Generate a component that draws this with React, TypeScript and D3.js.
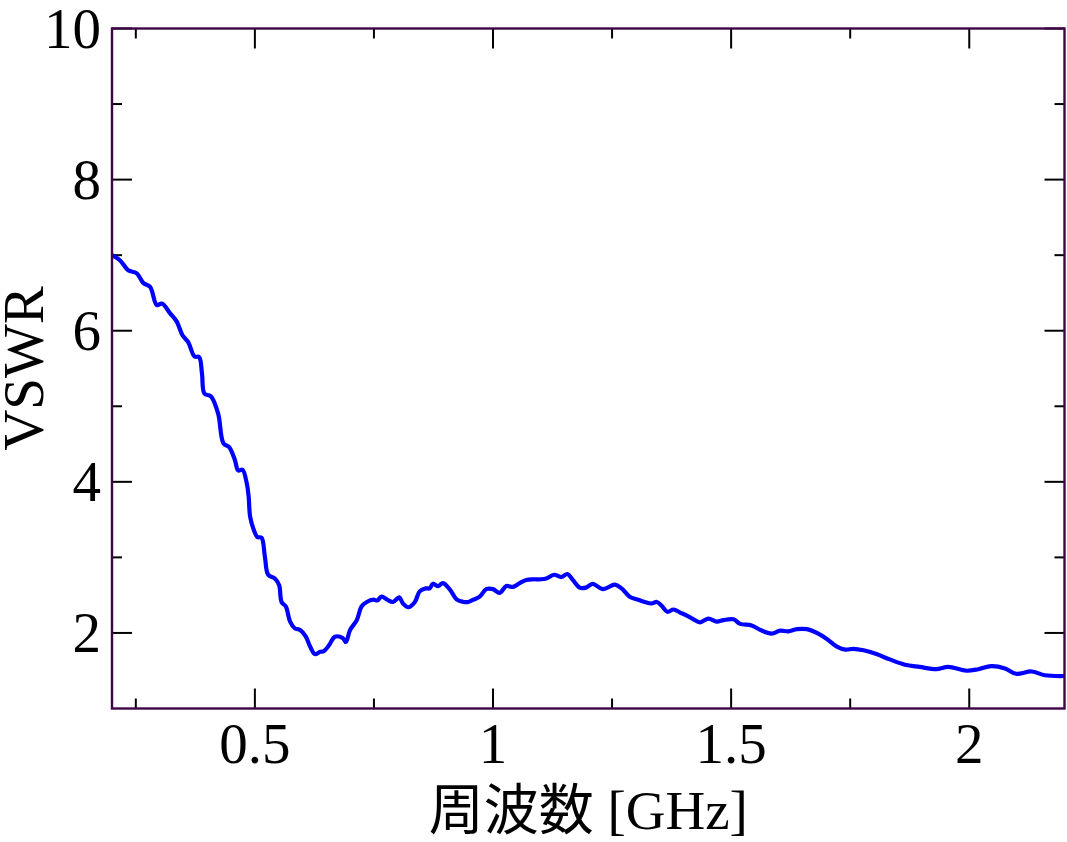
import React from "react";
import * as d3 from "d3";

const freq = [
  0.200, 0.217, 0.234, 0.252, 0.266, 0.280, 0.294, 0.305, 0.322, 0.336, 0.348, 0.360, 0.373, 0.383, 0.389, 0.394,
  0.408, 0.423, 0.434, 0.446, 0.458, 0.465, 0.474, 0.483, 0.487, 0.490, 0.498, 0.505, 0.514, 0.521, 0.528, 0.542,
  0.551, 0.556, 0.565, 0.574, 0.584, 0.595, 0.607, 0.616, 0.626, 0.637, 0.645, 0.656, 0.668, 0.685, 0.691, 0.700,
  0.714, 0.724, 0.735, 0.749, 0.757, 0.766, 0.778, 0.790, 0.803, 0.811, 0.822, 0.836, 0.846, 0.859, 0.867, 0.874,
  0.885, 0.895, 0.910, 0.924, 0.938, 0.948, 0.959, 0.972, 0.986, 1.000, 1.014, 1.028, 1.042, 1.056, 1.070, 1.084,
  1.098, 1.112, 1.128, 1.144, 1.156, 1.168, 1.182, 1.195, 1.209, 1.231, 1.256, 1.270, 1.287, 1.305, 1.319, 1.333,
  1.344, 1.354, 1.366, 1.379, 1.393, 1.410, 1.424, 1.435, 1.452, 1.470, 1.484, 1.505, 1.519, 1.543, 1.561, 1.585,
  1.603, 1.620, 1.638, 1.659, 1.680, 1.701, 1.722, 1.740, 1.757, 1.778, 1.805, 1.833, 1.865, 1.896, 1.931, 1.956,
  1.994, 2.019, 2.046, 2.075, 2.098, 2.131, 2.159, 2.200,
];

const vswr = [
  7.00, 6.93, 6.80, 6.76, 6.63, 6.58, 6.34, 6.36, 6.23, 6.12, 5.94, 5.85, 5.66, 5.65, 5.43, 5.17,
  5.13, 4.90, 4.51, 4.46, 4.29, 4.15, 4.16, 3.98, 3.80, 3.54, 3.36, 3.27, 3.26, 3.01, 2.77, 2.72,
  2.63, 2.41, 2.35, 2.15, 2.06, 2.04, 1.95, 1.82, 1.72, 1.75, 1.76, 1.84, 1.95, 1.93, 1.88, 2.04,
  2.17, 2.35, 2.41, 2.44, 2.43, 2.48, 2.44, 2.41, 2.47, 2.39, 2.34, 2.41, 2.55, 2.59, 2.59, 2.65,
  2.62, 2.66, 2.57, 2.44, 2.41, 2.41, 2.44, 2.48, 2.58, 2.58, 2.53, 2.62, 2.61, 2.66, 2.70, 2.71,
  2.71, 2.72, 2.77, 2.74, 2.78, 2.70, 2.60, 2.60, 2.65, 2.58, 2.64, 2.59, 2.48, 2.44, 2.41, 2.39,
  2.41, 2.36, 2.28, 2.31, 2.27, 2.22, 2.17, 2.14, 2.19, 2.15, 2.17, 2.18, 2.12, 2.10, 2.04, 1.99,
  2.03, 2.02, 2.05, 2.05, 2.00, 1.92, 1.82, 1.78, 1.79, 1.77, 1.72, 1.65, 1.58, 1.55, 1.52, 1.55,
  1.50, 1.52, 1.56, 1.53, 1.46, 1.49, 1.44, 1.43,
];

const xMajorTicks = [0.5, 1, 1.5, 2];
const xMajorLabels = ["0.5", "1", "1.5", "2"];
const xMinorTicks = [0.25, 0.75, 1.25, 1.75];
const yMajorTicks = [2, 4, 6, 8, 10];
const yMinorTicks = [3, 5, 7, 9];

const W = 1067;
const H = 842;
const L = 112;
const R = 1064.5;
const T = 28.5;
const B = 708.5;

export default function App() {
  const x = d3.scaleLinear().domain([0.2, 2.2]).range([L, R]);
  const y = d3.scaleLinear().domain([1, 10]).range([B, T]);
  const pts = freq.map((f, i) => [f, vswr[i]] as [number, number]);
  const line = d3
    .line<[number, number]>()
    .x((d) => x(d[0]))
    .y((d) => y(d[1]))
    .curve(d3.curveCatmullRom.alpha(0.5));

  const serif = "'Liberation Serif', 'Times New Roman', serif";
  const fs = 57;
  const major = 20;
  const minor = 10;
  const frame = "#3f0646";

  return (
    <svg
      width={W}
      height={H}
      style={{ position: "absolute", left: 0, top: 0, background: "#fff" }}
    >
      <rect x={0} y={0} width={W} height={H} fill="#fff" />
      <defs>
        <clipPath id="plot">
          <rect x={L} y={T} width={R - L} height={B - T} />
        </clipPath>
      </defs>
      {/* ticks */}
      <g stroke="#000" strokeWidth={2}>
        {xMajorTicks.map((t) => (
          <g key={"xM" + t}>
            <line x1={x(t)} x2={x(t)} y1={B} y2={B - major} />
            <line x1={x(t)} x2={x(t)} y1={T} y2={T + major} />
          </g>
        ))}
        {xMinorTicks.map((t) => (
          <g key={"xm" + t}>
            <line x1={x(t)} x2={x(t)} y1={B} y2={B - minor} />
            <line x1={x(t)} x2={x(t)} y1={T} y2={T + minor} />
          </g>
        ))}
        {yMajorTicks.map((t) => (
          <g key={"yM" + t}>
            <line x1={L} x2={L + major} y1={y(t)} y2={y(t)} />
            <line x1={R} x2={R - major} y1={y(t)} y2={y(t)} />
          </g>
        ))}
        {yMinorTicks.map((t) => (
          <g key={"ym" + t}>
            <line x1={L} x2={L + minor} y1={y(t)} y2={y(t)} />
            <line x1={R} x2={R - minor} y1={y(t)} y2={y(t)} />
          </g>
        ))}
      </g>
      {/* data */}
      <path
        d={line(pts) || ""}
        fill="none"
        stroke="#0000ff"
        strokeWidth={4.2}
        strokeLinejoin="round"
        strokeLinecap="round"
        clipPath="url(#plot)"
      />
      {/* frame */}
      <rect x={L} y={T} width={R - L} height={B - T} fill="none" stroke={frame} strokeWidth={2.4} />
      {/* tick labels */}
      <g fontFamily={serif} fontSize={fs} fill="#000">
        {xMajorTicks.map((t, i) => (
          <text key={"xl" + t} x={x(t)} y={763} textAnchor="middle">
            {xMajorLabels[i]}
          </text>
        ))}
        {yMajorTicks.map((t) => (
          <text key={"yl" + t} x={101} y={y(t) + 19} textAnchor="end">
            {t}
          </text>
        ))}
      </g>
      {/* axis titles */}
      <text x={(L + R) / 2} y={829} textAnchor="middle" fontSize={55} fill="#000">
        <tspan fontFamily="'Noto Sans CJK JP', 'Noto Sans CJK SC', sans-serif">周波数</tspan>
        <tspan fontFamily={serif}> [GHz]</tspan>
      </text>
      <text
        transform={`translate(43, ${(T + B) / 2}) rotate(-90)`}
        textAnchor="middle"
        fontFamily={serif}
        fontSize={57}
        fill="#000"
      >
        VSWR
      </text>
    </svg>
  );
}
